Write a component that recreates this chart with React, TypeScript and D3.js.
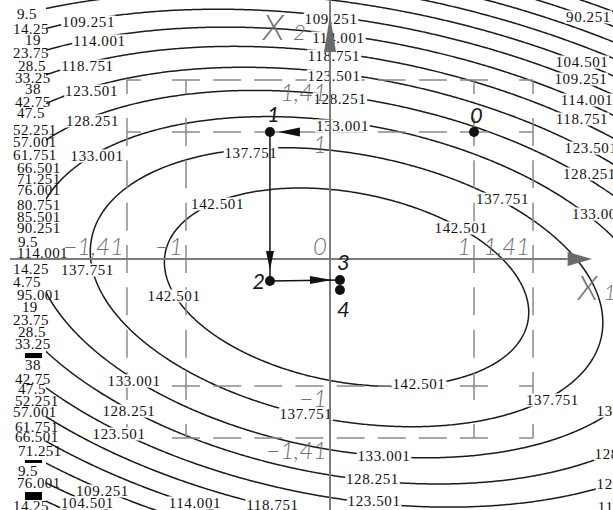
import React, { useMemo } from "react";
import * as d3 from "d3";

const WIDTH = 613;
const HEIGHT = 510;

// Second-order response model in coded factors:
// y = b0 + b1*x1 + b2*x2 + b12*x1*x2 + b11*x1^2 + b22*x2^2
const MODEL_B = [146.96, 0.155, -3.468, -2.66, -3.24, -8.5];

// Iso-response levels (step 4.75)
const CONTOUR_LEVELS = [
  142.501, 137.751, 133.001, 128.251, 123.501, 118.751, 114.001, 109.251,
  104.501, 99.751, 95.001, 90.251, 85.501, 80.751,
];

// Coded levels of the design (factorial points and star points)
const GRID_LEVELS = [-1.41, -1, 1, 1.41];
const X1_LEVEL_LABELS = [-1.41, -1, 0, 1, 1.41];
const X2_LEVEL_LABELS = [1.41, 1, -1, -1.41];

// Steepest-ascent path points
const PATH_NAMES = ["0", "1", "2", "3", "4"];
const PATH_X1 = [1, -0.417, -0.417, 0.069, 0.069];
const PATH_X2 = [1, 1, -0.173, -0.165, -0.244];

// Labels placed on the iso-lines (value, coded anchor)
const ISO_LABEL_VALUES = [
  "109.251", "114.001", "118.751", "123.501", "128.251", "133.001",
  "109.251", "114.001", "118.751", "123.501", "128.251", "133.001", "137.751",
  "90.251", "104.501", "109.251", "114.001", "118.751", "123.501", "128.251", "133.001",
  "137.751", "142.501", "137.751", "142.501", "142.501",
  "133.001", "128.251", "123.501", "109.251", "104.501", "114.001", "118.751",
  "142.501", "137.751", "133.001", "128.251", "123.501",
  "137.751", "133.001", "128.251", "123.501", "118.751",
];
const ISO_LABEL_X1 = [
  -1.677, -1.601, -1.684, -1.656, -1.649, -1.618,
  0.007, 0.059, 0.028, 0.028, 0.069, 0.087, -0.549,
  1.795, 1.75, 1.743, 1.785, 1.75, 1.813, 1.802, 1.865,
  1.198, 0.91, -1.684, -1.083, -0.781,
  -1.361, -1.396, -1.465, -1.58, -1.684, -0.938, -0.399,
  0.618, -0.167, 0.375, 0.295, 0.306,
  1.545, 2.035, 2.021, 2.035, 2.042,
];
const ISO_LABEL_X2 = [
  1.866, 1.717, 1.52, 1.323, 1.087, 0.811,
  1.89, 1.74, 1.598, 1.441, 1.26, 1.047, 0.835,
  1.906, 1.551, 1.417, 1.252, 1.102, 0.874, 0.669, 0.354,
  0.472, 0.244, -0.087, -0.291, 0.433,
  -0.961, -1.197, -1.378, -1.827, -1.921, -1.921, -1.937,
  -0.984, -1.22, -1.551, -1.732, -1.906,
  -1.11, -1.197, -1.535, -1.772, -1.953,
];

// Crowded labels of the far iso-lines along the left edge
const EDGE_LABEL_TEXT = [
  "9.5", "14.25", "19", "23.75", "28.5", "33.25", "38", "42.75", "47.5",
  "52.251", "57.001", "61.751", "66.501", "71.251", "76.001", "80.751",
  "85.501", "90.251", "9.5", "114.001", "14.25", "4.75", "95.001", "19",
  "23.75", "28.5", "33.25", "38", "42.75", "47.5", "52.251", "57.001",
  "61.751", "66.501", "71.251", "9.5", "76.001", "14.25",
];
const EDGE_LABEL_X1 = [
  -2.174, -2.201, -2.118, -2.201, -2.167, -2.188, -2.118, -2.188, -2.174,
  -2.201, -2.201, -2.201, -2.174, -2.174, -2.174, -2.174,
  -2.174, -2.174, -2.167, -2.174, -2.201, -2.201, -2.174, -2.139,
  -2.201, -2.167, -2.188, -2.118, -2.188, -2.167, -2.188, -2.201,
  -2.188, -2.188, -2.167, -2.167, -2.174, -2.201,
];
const EDGE_LABEL_X2 = [
  1.929, 1.811, 1.724, 1.622, 1.52, 1.425, 1.339, 1.236, 1.15,
  1.016, 0.921, 0.819, 0.717, 0.63, 0.543, 0.425,
  0.331, 0.244, 0.134, 0.047, -0.079, -0.181, -0.283, -0.378,
  -0.48, -0.575, -0.669, -0.835, -0.945, -1.024, -1.118, -1.205,
  -1.323, -1.402, -1.512, -1.669, -1.764, -1.945,
];
const EDGE_BAR_X2_TOP = [-0.74, -1.583, -1.835];
const EDGE_BAR_X2_BOTTOM = [-0.78, -1.606, -1.898];
const EDGE_BAR_X1 = [-2.118, -2.0];

// layout
const ORIGIN_X = 330;
const ORIGIN_Y = 259;
const UNIT_X = 144;
const UNIT_Y = 127;
const CLIP_LEFT = 46;

const PATH_LABEL_DX = [-4, -3, -5, -3, -3];
const PATH_LABEL_DY = [-9, -10, 8, -10, 27];
const PATH_LABEL_ANCHOR = ["start", "start", "end", "start", "start"];

const NUM_FONT = "'Liberation Serif', 'Times New Roman', serif";
const HAND_FONT = "Lato, 'Open Sans', sans-serif";
const GRAY = "#6f6f6f";

function response(u: number, v: number) {
  const b = MODEL_B;
  return b[0] + b[1] * u + b[2] * v + b[3] * u * v + b[4] * u * u + b[5] * v * v;
}

function fmtLevel(v: number) {
  const s = Math.abs(v).toString().replace(".", ",");
  return v < 0 ? "\u2212" + s : s;
}

function DashedSegment({ x1, y1, x2, y2 }: { x1: number; y1: number; x2: number; y2: number }) {
  const L = Math.hypot(x2 - x1, y2 - y1);
  const n = Math.max(1, Math.round(L / 43));
  const p = L / n;
  const d = Math.min(28, p * 0.68);
  return (
    <line
      x1={x1}
      y1={y1}
      x2={x2}
      y2={y2}
      stroke="#8a8a8a"
      strokeWidth={1.5}
      strokeDasharray={`${d} ${p - d}`}
      strokeDashoffset={d / 2}
    />
  );
}

export default function App() {
  const x = d3
    .scaleLinear()
    .domain([-1.41, 1.41])
    .range([ORIGIN_X - 1.41 * UNIT_X, ORIGIN_X + 1.41 * UNIT_X]);
  const y = d3
    .scaleLinear()
    .domain([-1.41, 1.41])
    .range([ORIGIN_Y + 1.41 * UNIT_Y, ORIGIN_Y - 1.41 * UNIT_Y]);

  const isoPaths = useMemo(() => {
    const step = 2;
    const gx0 = -20;
    const gy0 = -20;
    const nx = Math.ceil((WIDTH + 40) / step);
    const ny = Math.ceil((HEIGHT + 40) / step);
    const values = new Float64Array(nx * ny);
    for (let j = 0; j < ny; j++) {
      const v = y.invert(gy0 + (j + 0.5) * step);
      for (let i = 0; i < nx; i++) {
        const u = x.invert(gx0 + (i + 0.5) * step);
        values[j * nx + i] = response(u, v);
      }
    }
    const gen = d3.contours().size([nx, ny]).thresholds(CONTOUR_LEVELS);
    const path = d3.geoPath(d3.geoIdentity().scale(step).translate([gx0, gy0]) as any);
    return gen(Array.from(values)).map((c) => ({ value: c.value, d: path(c as any) || "" }));
  }, []);

  const gx = GRID_LEVELS.map((l) => x(l));
  const gy = GRID_LEVELS.map((l) => y(l));
  const dashes: { x1: number; y1: number; x2: number; y2: number }[] = [];
  gy.forEach((yy) => {
    for (let k = 0; k < gx.length - 1; k++) dashes.push({ x1: gx[k], y1: yy, x2: gx[k + 1], y2: yy });
  });
  gx.forEach((xx) => {
    const ys = [...gy].sort((a, b) => a - b);
    for (let k = 0; k < ys.length - 1; k++) dashes.push({ x1: xx, y1: ys[k], x2: xx, y2: ys[k + 1] });
  });

  const px = PATH_X1.map((v) => x(v));
  const py = PATH_X2.map((v) => y(v));

  return (
    <svg
      width={WIDTH}
      height={HEIGHT}
      style={{ position: "absolute", left: 0, top: 0, background: "#fff" }}
    >
      <defs>
        <clipPath id="iso-clip">
          <rect x={CLIP_LEFT} y={0} width={WIDTH - CLIP_LEFT} height={HEIGHT} />
        </clipPath>
      </defs>
      <rect x={0} y={0} width={WIDTH} height={HEIGHT} fill="#fff" />

      {/* iso-response lines */}
      <g clipPath="url(#iso-clip)">
        {isoPaths.map((c) => (
          <path key={c.value} d={c.d} fill="none" stroke="#1c1c1c" strokeWidth={1.5} />
        ))}
      </g>

      {/* design region: factorial square and star levels */}
      <g>
        {dashes.map((s, i) => (
          <DashedSegment key={i} {...s} />
        ))}
      </g>

      {/* iso-line labels */}
      <g fontFamily={NUM_FONT} fontSize={15} letterSpacing={0.6} fill="#111">
        {ISO_LABEL_VALUES.map((t, i) => {
          const cx = x(ISO_LABEL_X1[i]);
          const cy = y(ISO_LABEL_X2[i]);
          const w = t.length * 7.5 + 2;
          return (
            <g key={i}>
              <rect x={cx - w / 2} y={cy - 6.5} width={w} height={13} fill="#fff" />
              <text x={cx} y={cy + 5} textAnchor="middle">
                {t}
              </text>
            </g>
          );
        })}
      </g>

      {/* crowded far-level labels at the left edge */}
      <g fontFamily={NUM_FONT} fontSize={15} letterSpacing={0.4} fill="#111">
        {EDGE_LABEL_TEXT.map((t, i) => (
          <text key={i} x={x(EDGE_LABEL_X1[i])} y={y(EDGE_LABEL_X2[i]) + 5}>
            {t}
          </text>
        ))}
        {EDGE_BAR_X2_TOP.map((t, i) => (
          <rect
            key={"b" + i}
            x={x(EDGE_BAR_X1[0])}
            y={y(t)}
            width={x(EDGE_BAR_X1[1]) - x(EDGE_BAR_X1[0])}
            height={y(EDGE_BAR_X2_BOTTOM[i]) - y(t)}
            fill="#000"
          />
        ))}
      </g>

      {/* coordinate axes */}
      <g stroke="#7a7a7a" strokeWidth={2}>
        <line x1={10} y1={y(0)} x2={x(0) + 1.65 * UNIT_X} y2={y(0)} />
        <line x1={x(0)} y1={0} x2={x(0)} y2={HEIGHT} />
      </g>
      <path
        d={`M${x(0) + 1.65 * UNIT_X},${y(0) - 7} L${x(0) + 1.82 * UNIT_X},${y(0)} L${x(0) + 1.65 * UNIT_X},${y(0) + 7}Z`}
        fill="#6a6a6a"
      />
      <path
        d={`M${x(0) - 6},${y(0) - 1.63 * UNIT_Y} L${x(0)},${y(0) - 1.92 * UNIT_Y} L${x(0) + 6},${y(0) - 1.63 * UNIT_Y}Z`}
        fill="#6a6a6a"
      />

      {/* steepest-ascent path */}
      <g fill="#111" stroke="#111">
        <line x1={px[1]} y1={py[1]} x2={px[2]} y2={py[2]} strokeWidth={1.5} />
        <line x1={px[2]} y1={py[2]} x2={px[3]} y2={py[3]} strokeWidth={1.5} />
        {/* 0 -> 1 */}
        <path
          d={`M${px[1] + 8},${py[1]} L${px[1] + 30},${py[1] - 4.5} L${px[1] + 30},${py[1] + 4.5}Z`}
          stroke="none"
        />
        {/* 1 -> 2 */}
        <path
          d={`M${px[2]},${py[2] - 11} L${px[2] - 4},${py[2] - 30} L${px[2] + 4},${py[2] - 30}Z`}
          stroke="none"
        />
        {/* 2 -> 3 */}
        <path
          d={`M${px[3] - 8},${py[3]} L${px[3] - 30},${py[3] - 4} L${px[3] - 30},${py[3] + 4}Z`}
          stroke="none"
        />
        {PATH_NAMES.map((n, i) => (
          <circle key={n} cx={px[i]} cy={py[i]} r={5} stroke="none" />
        ))}
      </g>
      <g fontFamily={HAND_FONT} fontStyle="italic" fontSize={22} fill="#1a1a1a">
        {PATH_NAMES.map((n, i) => (
          <text
            key={n}
            x={px[i] + PATH_LABEL_DX[i]}
            y={py[i] + PATH_LABEL_DY[i]}
            textAnchor={PATH_LABEL_ANCHOR[i] as any}
          >
            {n}
          </text>
        ))}
      </g>

      {/* coded level labels */}
      <g fontFamily={HAND_FONT} fontStyle="italic" fontWeight={300} fontSize={24} fill={GRAY}>
        {X1_LEVEL_LABELS.map((l) => (
          <text key={"x" + l} x={x(l) - 3} y={y(0) - 4} textAnchor="end">
            {fmtLevel(l)}
          </text>
        ))}
        {X2_LEVEL_LABELS.map((l) => (
          <text key={"y" + l} x={x(0) - 3} y={y(l) + 21} textAnchor="end">
            {fmtLevel(l)}
          </text>
        ))}
      </g>

      {/* factor names */}
      <g fontFamily={HAND_FONT} fontStyle="italic" fontWeight={300} fill={GRAY}>
        <text x={x(0) - 67} y={40} fontSize={36}>
          X
        </text>
        <text x={x(0) - 37} y={40} fontSize={22}>
          2
        </text>
        <text x={x(0) + 1.72 * UNIT_X} y={300} fontSize={34}>
          X
        </text>
        <text x={x(0) + 1.90 * UNIT_X} y={300} fontSize={22}>
          1
        </text>
      </g>
    </svg>
  );
}
